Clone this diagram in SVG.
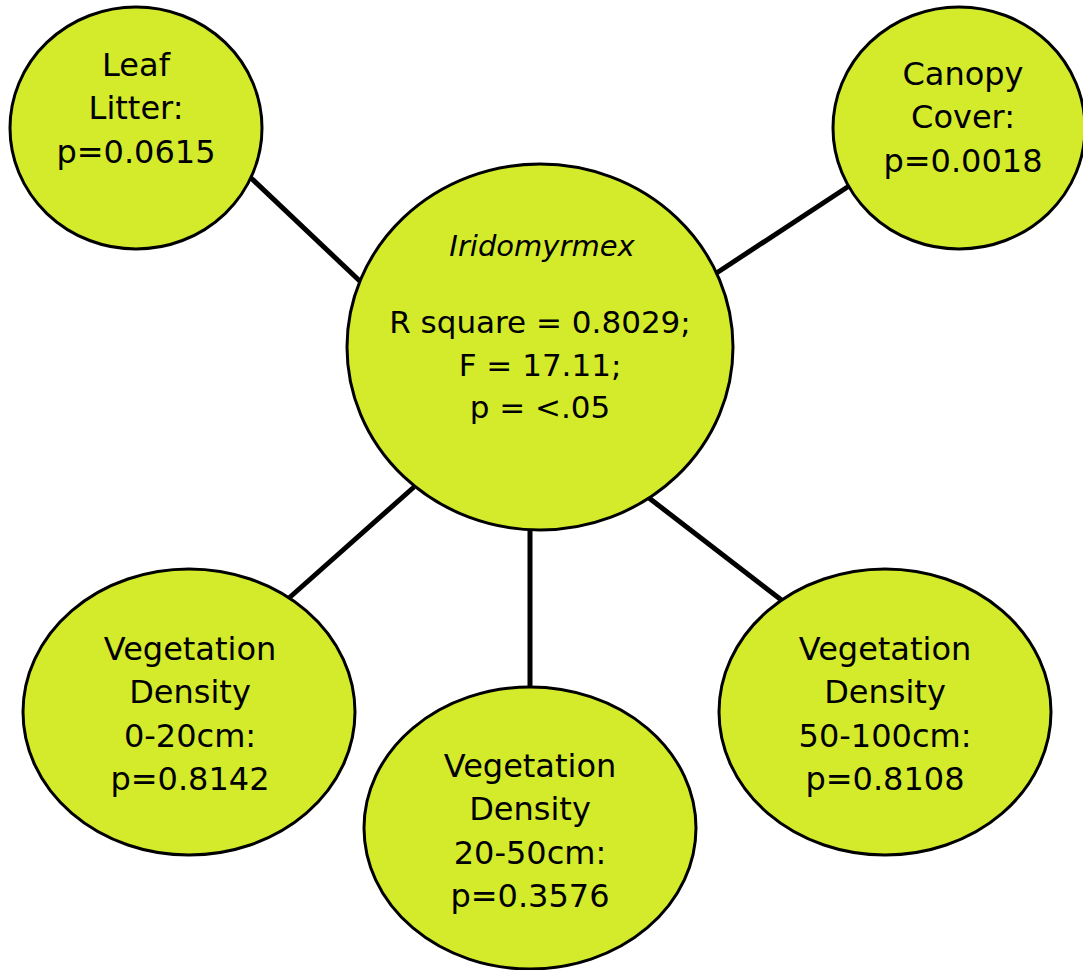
<svg xmlns="http://www.w3.org/2000/svg" width="1083" height="970" viewBox="0 0 1083 970">
<style>
.node ellipse{fill:#d3eb2b;stroke:#000;stroke-width:3}
.node text{font-family:"DejaVu Sans","Liberation Sans",sans-serif;font-size:32px;fill:#000;text-anchor:middle}
.node text.c{font-size:31px}
.node text.it{font-size:29px;font-style:italic}
.conn line{stroke:#000;stroke-width:5;stroke-linecap:butt}
</style>
<rect width="1083" height="970" fill="#fff"/>
<g id="connectors" class="conn">
<line x1="250" y1="177" x2="364" y2="285"/>
<line x1="849" y1="186" x2="715" y2="274"/>
<line x1="414" y1="487" x2="289" y2="598"/>
<line x1="530" y1="530" x2="530" y2="688"/>
<line x1="649" y1="498" x2="784" y2="602"/>
</g>
<g id="center" class="node">
<ellipse cx="540" cy="347" rx="193" ry="183"/>
<text class="it" x="542" y="256">Iridomyrmex</text>
<text class="c" x="540" y="333">R square = 0.8029;</text>
<text class="c" x="540" y="376">F = 17.11;</text>
<text class="c" x="540" y="418">p = &lt;.05</text>
</g>
<g id="leaf-litter" class="node">
<ellipse cx="136" cy="128" rx="126" ry="121"/>
<text x="136" y="76">Leaf</text>
<text x="136" y="119">Litter:</text>
<text x="136" y="163">p=0.0615</text>
</g>
<g id="canopy-cover" class="node">
<ellipse cx="959" cy="128" rx="126" ry="121"/>
<text x="963" y="85">Canopy</text>
<text x="963" y="128">Cover:</text>
<text x="963" y="172">p=0.0018</text>
</g>
<g id="veg-0-20" class="node">
<ellipse cx="189" cy="712" rx="166" ry="143"/>
<text x="190" y="660">Vegetation</text>
<text x="190" y="703">Density</text>
<text x="190" y="747">0-20cm:</text>
<text x="190" y="790">p=0.8142</text>
</g>
<g id="veg-20-50" class="node">
<ellipse cx="530" cy="828" rx="166" ry="141"/>
<text x="530" y="777">Vegetation</text>
<text x="530" y="820">Density</text>
<text x="530" y="864">20-50cm:</text>
<text x="530" y="907">p=0.3576</text>
</g>
<g id="veg-50-100" class="node">
<ellipse cx="885" cy="712" rx="166" ry="143"/>
<text x="885" y="660">Vegetation</text>
<text x="885" y="703">Density</text>
<text x="885" y="747">50-100cm:</text>
<text x="885" y="790">p=0.8108</text>
</g>
</svg>
